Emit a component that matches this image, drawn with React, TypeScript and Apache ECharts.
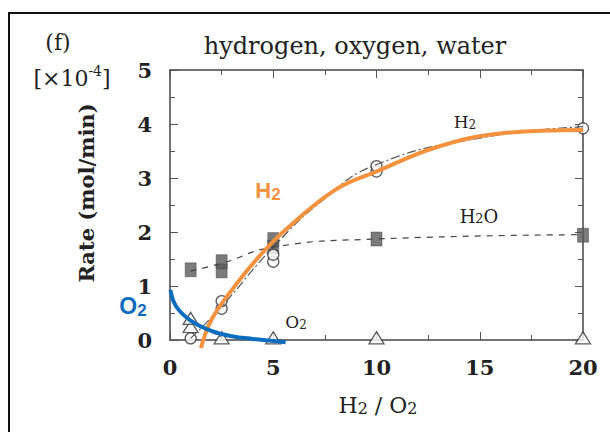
import React, { useEffect, useRef } from "react";
import * as echarts from "echarts";

const xTicks = [0, 5, 10, 15, 20];
const yTicks = [0, 1, 2, 3, 4, 5];

// measured points (x = H2/O2, y = rate ×1e-4 mol/min)
const h2Points = [[1, 0.03], [2.5, 0.58], [2.5, 0.72], [5, 1.45], [5, 1.58], [10, 3.12], [10, 3.22], [20, 3.92]];
const h2oPoints = [[1, 1.3], [2.5, 1.28], [2.5, 1.45], [5, 1.72], [5, 1.86], [10, 1.87], [20, 1.94]];
const o2Points = [[1, 0.25], [1, 0.4], [2.5, 0.04], [5, 0.04], [10, 0.04], [20, 0.04]];

// original fitted lines of the scanned figure
const h2FitLine = [[1, 0.03], [2.5, 0.62], [5, 1.72], [7.5, 2.62], [10, 3.25], [15, 3.74], [20, 3.95]];
const h2oFitLine = [[1, 1.28], [2.5, 1.42], [5, 1.72], [10, 1.87], [20, 1.95]];
const o2FitLine = [[1, 0.35], [2.5, 0.05]];

// coloured overlay curves
const h2Overlay = [[1.5, -0.15], [2, 0.37], [3.1, 0.98], [4.3, 1.54], [5.6, 2.04], [8, 2.78], [10, 3.12], [12.9, 3.57], [16.1, 3.83], [20, 3.89]];
const o2Overlay = [[0.02, 0.93], [0.3, 0.62], [1, 0.36], [2, 0.17], [3, 0.07], [4, 0.02], [5.6, -0.04]];

const SERIF = "'DejaVu Serif', 'Liberation Serif', serif";
const SANS = "'Liberation Sans', Arial, sans-serif";
const INK = "#222";
const ORANGE = "#f5923e";
const BLUE = "#0b6dbd";

export default function App() {
  const ref = useRef<HTMLDivElement>(null);
  useEffect(() => {
    if (!ref.current) return;
    const chart = echarts.init(ref.current, undefined, { renderer: "svg" });
    const axisCommon = {
      axisLine: { show: true, onZero: false, lineStyle: { color: "#444", width: 1.5 } },
      axisTick: { show: true, inside: true, length: 8, lineStyle: { color: "#555", width: 1 } },
      minorTick: { show: true, splitNumber: 2, length: 5, lineStyle: { color: "#555", width: 1 } },
      splitLine: { show: false },
    };
    const sub = (c: string, size: number, subSize: number, font: string, weight: string, drop: number) => ({
      a: { fontSize: size, fontFamily: font, fill: c, color: c, fontWeight: weight, lineHeight: size + 4 },
      s: { fontSize: subSize, fontFamily: font, fill: c, color: c, fontWeight: weight, lineHeight: size + 4, padding: [drop, 0, 0, 0] },
    });
    chart.setOption({
      animation: false,
      backgroundColor: "#fff",
      grid: { left: 170, right: 27, top: 70, bottom: 92 },
      xAxis: [
        {
          type: "value", min: 0, max: 20, interval: 5, position: "bottom",
          ...axisCommon,
          axisLabel: { show: true, margin: 17, fontSize: 21, fontWeight: "bold", fontFamily: SERIF, color: INK,
            formatter: (v: number) => (xTicks.includes(v) ? String(v) : "") },
        },
        {
          type: "value", min: 0, max: 20, interval: 5, position: "top",
          ...axisCommon, axisLabel: { show: false },
        },
      ],
      yAxis: [
        {
          type: "value", min: 0, max: 5, interval: 1, position: "left",
          ...axisCommon,
          axisLabel: { show: true, margin: 18, fontSize: 21, fontWeight: "bold", fontFamily: SERIF, color: INK,
            formatter: (v: number) => (yTicks.includes(v) ? String(v) : "") },
        },
        {
          type: "value", min: 0, max: 5, interval: 1, position: "right",
          ...axisCommon, axisLabel: { show: false },
        },
      ],
      series: [
        { type: "line", data: h2FitLine, smooth: true, symbol: "none", clip: false,
          lineStyle: { color: "#555", width: 1.2, type: [9, 3, 2, 3] } },
        { type: "line", data: h2oFitLine, smooth: true, symbol: "none",
          lineStyle: { color: "#444", width: 1.2, type: [6, 6] } },
        { type: "line", data: o2FitLine, symbol: "none",
          lineStyle: { color: "#666", width: 1, type: [5, 3] } },
        { type: "scatter", data: h2oPoints, symbol: "rect", symbolSize: [11, 14],
          itemStyle: { color: "#5a5a5a", borderColor: "#333", borderWidth: 0.5 } },
        { type: "scatter", data: h2Points, symbol: "circle", symbolSize: 11,
          itemStyle: { color: "#fff", borderColor: "#333", borderWidth: 1.3 } },
        { type: "scatter", data: o2Points, symbol: "triangle", symbolSize: [15, 12],
          itemStyle: { color: "#fff", borderColor: "#333", borderWidth: 1.3 } },
        { type: "line", data: h2Overlay, smooth: 0.4, symbol: "none", clip: false, z: 5,
          lineStyle: { color: ORANGE, width: 4 } },
        { type: "line", data: o2Overlay, smooth: 0.4, symbol: "none", clip: false, z: 5,
          lineStyle: { color: BLUE, width: 4 } },
      ],
      graphic: [
        { type: "rect", z: 100, shape: { x: 9, y: 13, width: 700, height: 600 },
          style: { fill: "none", stroke: "#111", lineWidth: 2 } },
        { type: "text", x: 58, y: 42, style: { text: "(f)", font: `22px ${SERIF}`, fill: INK, textAlign: "center", textVerticalAlign: "middle" } },
        { type: "text", x: 72, y: 78, style: {
            text: "{a|[×10}{p|-4}{a|]}", textAlign: "center", textVerticalAlign: "middle",
            rich: {
              a: { fontSize: 22, fontFamily: SERIF, fill: INK, color: INK, lineHeight: 26 },
              p: { fontSize: 14, fontFamily: SERIF, fill: INK, color: INK, lineHeight: 26, padding: [0, 0, 14, 0] },
            } } },
        { type: "text", x: 355, y: 46, style: { text: "hydrogen, oxygen, water", font: `24px ${SERIF}`, fill: INK, textAlign: "center", textVerticalAlign: "middle" } },
        { type: "text", x: 86, y: 193, rotation: Math.PI / 2, style: { text: "Rate (mol/min)", font: `bold 21px ${SERIF}`, fill: INK, textAlign: "center", textVerticalAlign: "middle" } },
        { type: "text", x: 378, y: 405, style: {
            text: "{a|H}{s|2}{a| / O}{s|2}", textAlign: "center", textVerticalAlign: "middle",
            rich: sub(INK, 22, 16, SERIF, "normal", 6) } },
        { type: "text", x: 465, y: 122, style: {
            text: "{a|H}{s|2}", textAlign: "center", textVerticalAlign: "middle",
            rich: sub(INK, 17, 12, SERIF, "normal", 5) } },
        { type: "text", x: 479, y: 216, style: {
            text: "{a|H}{s|2}{a|O}", textAlign: "center", textVerticalAlign: "middle",
            rich: sub(INK, 18, 13, SERIF, "normal", 5) } },
        { type: "text", x: 296, y: 322, style: {
            text: "{a|O}{s|2}", textAlign: "center", textVerticalAlign: "middle",
            rich: sub(INK, 17, 12, SERIF, "normal", 5) } },
        { type: "text", x: 268, y: 190, style: {
            text: "{a|H}{s|2}", textAlign: "center", textVerticalAlign: "middle",
            rich: sub(ORANGE, 22, 17, SANS, "bold", 8) } },
        { type: "text", x: 133, y: 306, style: {
            text: "{a|O}{s|2}", textAlign: "center", textVerticalAlign: "middle",
            rich: sub(BLUE, 23, 17, SANS, "bold", 8) } },
      ],
    });
    return () => chart.dispose();
  }, []);
  return <div ref={ref} style={{ position: "fixed", left: 0, top: 0, width: 610, height: 432 }} />;
}
